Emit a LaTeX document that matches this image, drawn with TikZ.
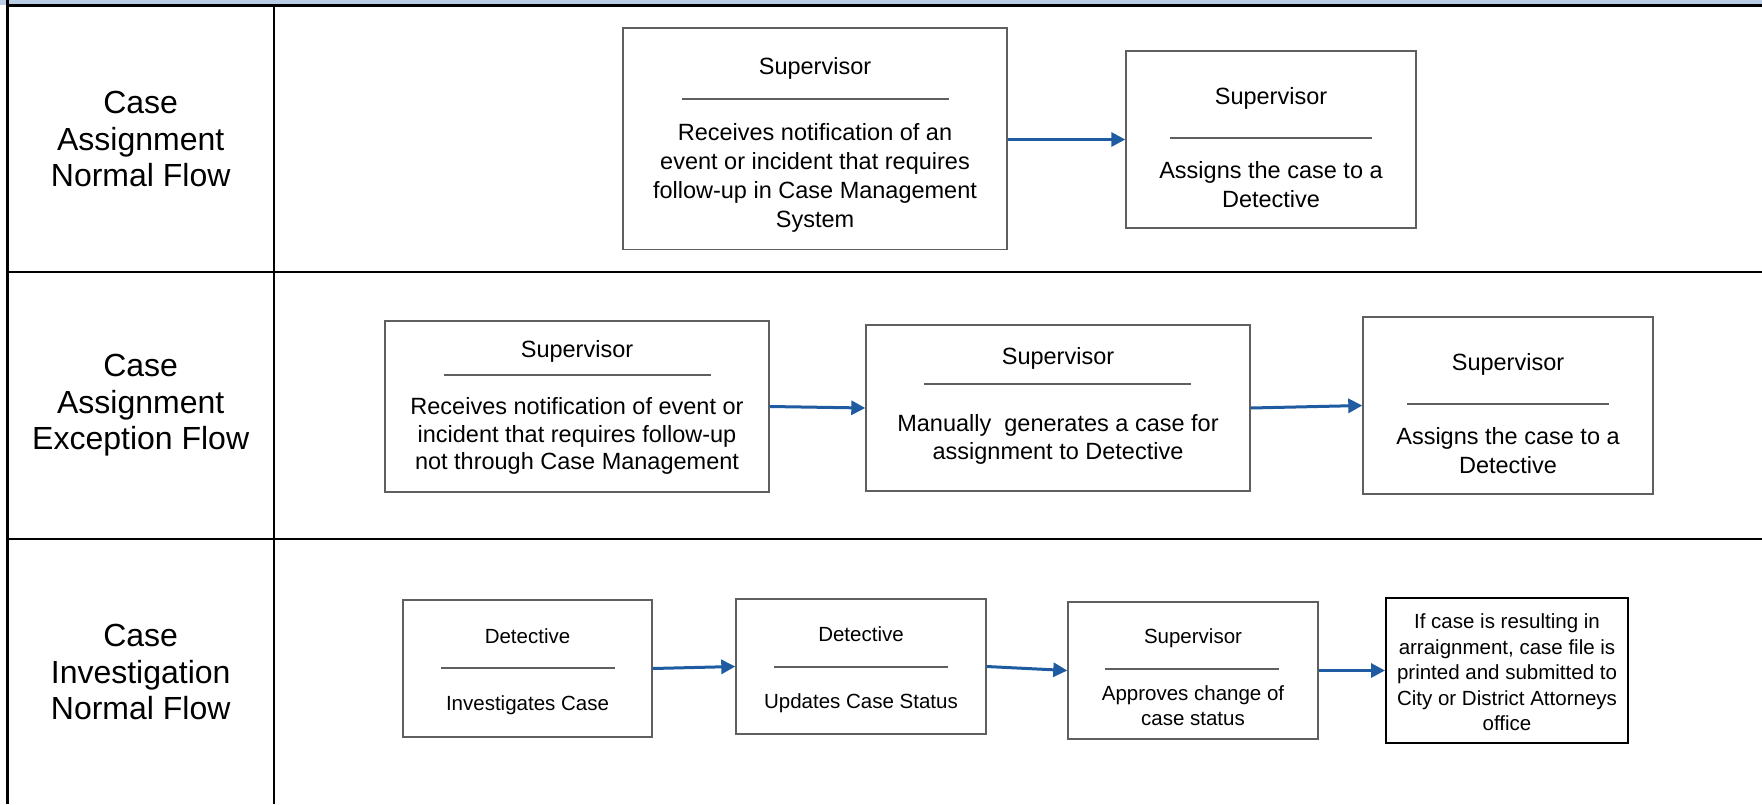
\documentclass[tikz,border=0pt]{standalone}
\usepackage{fontspec}
\setmainfont{Liberation Sans}
\usetikzlibrary{arrows.meta}
\definecolor{bandblue}{RGB}{184,204,228}
\definecolor{flowblue}{RGB}{31,91,161}
\definecolor{boxgray}{RGB}{95,95,95}

\begin{document}
\begin{tikzpicture}[x=1pt,y=-1pt,
  grid/.style={line width=2.5pt, black},
  stepbox/.style={draw=boxgray, line width=1.4pt, rectangle, inner sep=0pt},
  endbox/.style={draw=black, line width=2pt, rectangle, inner sep=0pt},
  lane/.style={font=\fontsize{32}{36.5}\selectfont, align=center, inner sep=0pt},
  big/.style={font=\fontsize{23.5}{#1}\selectfont, align=center, inner sep=0pt},
  big/.default=26,
  small/.style={font=\fontsize{20.5}{#1}\selectfont, align=center, inner sep=0pt},
  small/.default=25.5,
  sep/.style={boxgray, line width=1.4pt},
  flow/.style={flowblue, line width=3pt, -{Triangle[length=14pt,width=14pt]}}
]
\useasboundingbox (0,0) rectangle (1762,804);

% header band and table rules
\fill[bandblue] (0,0) rectangle (1762,4.5);
\draw[grid] (7.3,0) -- (7.3,804);
\draw[grid] (7.3,5.5) -- (1762,5.5);
\draw[grid] (274,5.5) -- (274,804);
\draw[grid] (7.3,272) -- (1762,272);
\draw[grid] (7.3,539) -- (1762,539);

% lane titles
\node[lane] (l1) at (140.7,139) {Case\\Assignment\\Normal Flow};
\node[lane] (l2) at (140.7,405.5) {Case\\Assignment\\Exception Flow};
\node[lane] (l3) at (140.7,672) {Case\\Investigation\\Normal Flow};

% ---- Case Assignment, normal flow
\node[stepbox, minimum width=384pt, minimum height=221.5pt] (b1) at (815,138.75) {};
\node[big] (b1h) at (815,68) {Supervisor};
\draw[sep] (682,99) -- (949,99);
\node[big=29] (b1t) at (815,178) {Receives notification of an\\event or incident that requires\\follow-up in Case Management\\System};

\node[stepbox, minimum width=290pt, minimum height=177pt] (b2) at (1271,139.5) {};
\node[big] (b2h) at (1271,98) {Supervisor};
\draw[sep] (1170,138) -- (1372,138);
\node[big=29] (b2t) at (1271,185) {Assigns the case to a\\Detective};

\draw[flow] (b1.east |- b2.west) -- (b2.west);

% ---- Case Assignment, exception flow
\node[stepbox, minimum width=384pt, minimum height=171pt] (b3) at (577,406.5) {};
\node[big] (b3h) at (577,351) {Supervisor};
\draw[sep] (444,375) -- (711,375);
\node[big=27.5] (b3t) at (577,436) {Receives notification of event or\\incident that requires follow-up\\not through Case Management};

\node[stepbox, minimum width=384pt, minimum height=166pt] (b4) at (1058,408) {};
\node[big] (b4h) at (1058,358) {Supervisor};
\draw[sep] (924,384) -- (1191,384);
\node[big=28] (b4t) at (1058,439.5) {Manually\ \ generates a case for\\assignment to Detective};

\node[stepbox, minimum width=290pt, minimum height=177pt] (b5) at (1508,405.5) {};
\node[big] (b5h) at (1508,364) {Supervisor};
\draw[sep] (1407,404) -- (1609,404);
\node[big=29] (b5t) at (1508,451) {Assigns the case to a\\Detective};

\draw[flow] (b3.east) -- (b4.west);
\draw[flow] (b4.east) -- (b5.west);

% ---- Case Investigation, normal flow
\node[stepbox, minimum width=249pt, minimum height=137pt] (b6) at (527.5,668.5) {};
\node[small] (b6h) at (527.5,636) {Detective};
\draw[sep] (441,668) -- (615,668);
\node[small] (b6t) at (527.5,705) {Investigates Case};

\node[stepbox, minimum width=250pt, minimum height=135pt] (b7) at (861,666.5) {};
\node[small] (b7h) at (861,634) {Detective};
\draw[sep] (774,667) -- (948,667);
\node[small] (b7t) at (861,703) {Updates Case Status};

\node[stepbox, minimum width=250pt, minimum height=137pt] (b8) at (1193,670.5) {};
\node[small] (b8h) at (1193,638) {Supervisor};
\draw[sep] (1105,669) -- (1279,669);
\node[small=25] (b8t) at (1193,706) {Approves change of\\case status};

\node[endbox, minimum width=242pt, minimum height=145pt] (b9) at (1507,670.5) {};
\node[small=25.5] (b9t) at (1507,672.5) {If case is resulting in\\arraignment, case file is\\printed and submitted to\\City or District Attorneys\\office};

\draw[flow] (b6.east) -- (b7.west);
\draw[flow] (b7.east) -- (b8.west);
\draw[flow] (b8.east) -- (b9.west);
\end{tikzpicture}
\end{document}
